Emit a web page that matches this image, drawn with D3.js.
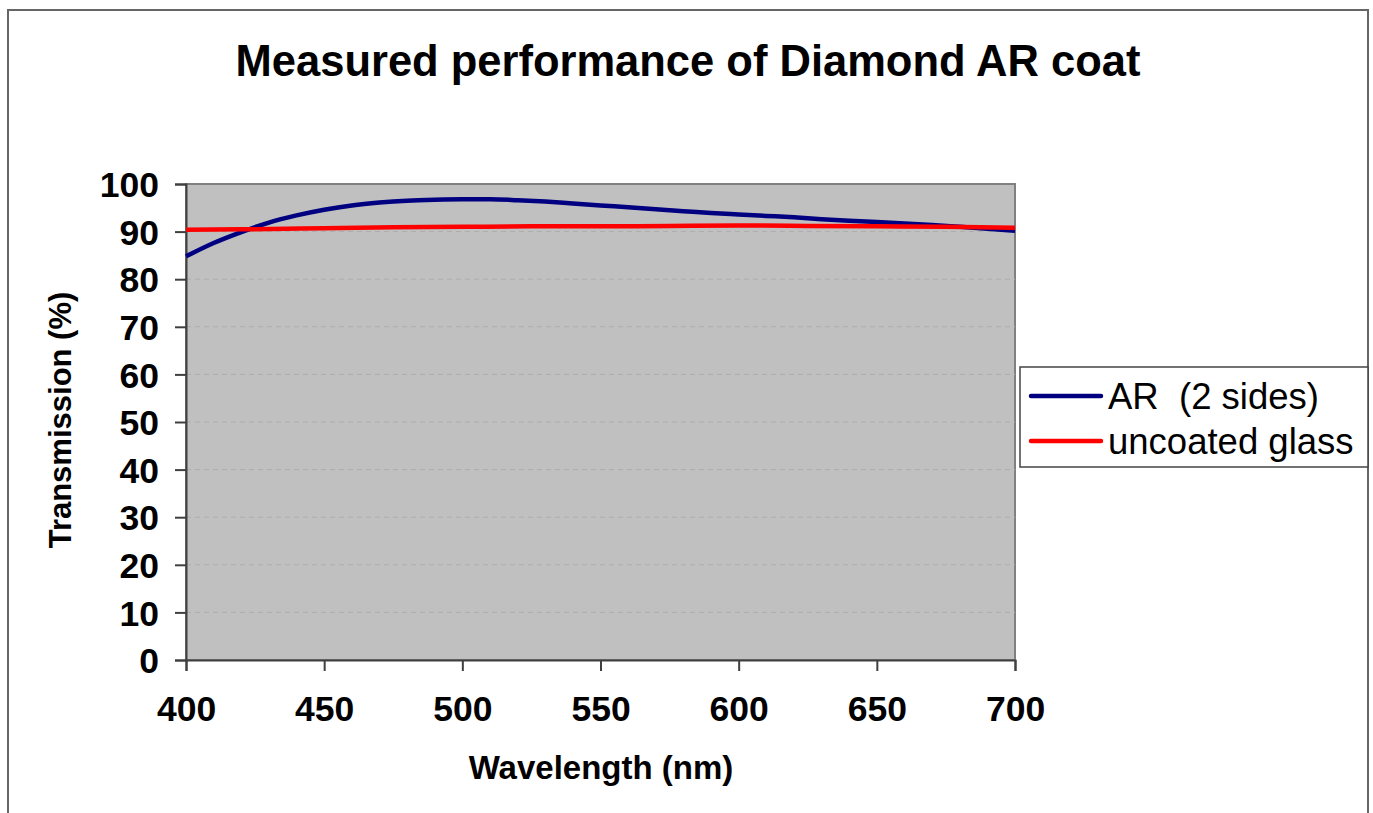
<!DOCTYPE html>
<html>
<head>
<meta charset="utf-8">
<script src="https://cdn.jsdelivr.net/npm/d3@7"></script>
<style>
  html, body { margin: 0; padding: 0; background: #fff; }
  svg { display: block; font-family: "Liberation Sans", Arial, sans-serif; }
</style>
</head>
<body>
<svg id="chart" width="1373" height="813"></svg>
<script>
// ---- Data ----
const titleText = "Measured performance of Diamond AR coat";
const xLabel = "Wavelength (nm)";
const yLabel = "Transmission (%)";
const seriesNames = ["AR  (2 sides)", "uncoated glass"];
const seriesColors = ["#000080", "#FF0000"];

const arWavelength = [400, 410, 420, 430, 440, 450, 460, 470, 480, 490, 500, 510, 520, 530, 540, 550, 560, 570, 580, 590, 600, 610, 620, 630, 640, 650, 660, 670, 680, 690, 700];
const arTransmission = [84.8, 87.6, 89.9, 91.9, 93.4, 94.6, 95.5, 96.1, 96.5, 96.7, 96.8, 96.8, 96.6, 96.3, 95.9, 95.5, 95.1, 94.7, 94.3, 93.9, 93.6, 93.3, 93.0, 92.6, 92.3, 92.0, 91.7, 91.4, 91.0, 90.6, 90.2];

const glassWavelength = [400, 425, 450, 475, 500, 525, 550, 575, 600, 625, 650, 675, 700];
const glassTransmission = [90.4, 90.5, 90.7, 90.9, 91.0, 91.1, 91.1, 91.2, 91.3, 91.2, 91.1, 91.0, 90.8];

const xTicks = [400, 450, 500, 550, 600, 650, 700];
const yTicks = [0, 10, 20, 30, 40, 50, 60, 70, 80, 90, 100];

// ---- Layout ----
const svg = d3.select("#chart");
const plot = { left: 186, right: 1015, top: 184, bottom: 660 };

// outer frame
svg.append("rect")
  .attr("x", 8).attr("y", 10).attr("width", 1360).attr("height", 812)
  .attr("fill", "#fff").attr("stroke", "#666").attr("stroke-width", 2);

const x = d3.scaleLinear().domain([400, 700]).range([plot.left, plot.right]);
const y = d3.scaleLinear().domain([0, 100]).range([plot.bottom, plot.top]);

// plot background
svg.append("rect")
  .attr("x", plot.left).attr("y", plot.top)
  .attr("width", plot.right - plot.left).attr("height", plot.bottom - plot.top)
  .attr("fill", "#C0C0C0").attr("stroke", "#808080").attr("stroke-width", 2);

// gridlines
svg.append("g").selectAll("line")
  .data(yTicks.filter(d => d > 0 && d < 100))
  .join("line")
  .attr("x1", plot.left).attr("x2", plot.right)
  .attr("y1", d => y(d)).attr("y2", d => y(d))
  .attr("stroke", "#adadad").attr("stroke-width", 1)
  .attr("stroke-dasharray", "5,4");

// axes
const xAxis = d3.axisBottom(x).tickValues(xTicks).tickSize(11).tickPadding(25).tickFormat(d3.format("d"));
const yAxis = d3.axisLeft(y).tickValues(yTicks).tickSize(11).tickPadding(16).tickFormat(d3.format("d"));

const gx = svg.append("g").attr("transform", `translate(0,${plot.bottom})`).call(xAxis);
const gy = svg.append("g").attr("transform", `translate(${plot.left},0)`).call(yAxis);

[gx, gy].forEach(g => {
  g.select(".domain").attr("stroke", "#404040").attr("stroke-width", 2);
  g.selectAll(".tick line").attr("stroke", "#404040").attr("stroke-width", 2);
  g.selectAll(".tick text")
    .attr("fill", "#000")
    .style("font-family", "'Liberation Sans', Arial, sans-serif")
    .style("font-size", "35.5px")
    .style("font-weight", "bold");
});
gy.selectAll(".tick text").attr("dy", "0.36em");

// series lines
const line = d3.line().x(d => x(d[0])).y(d => y(d[1])).curve(d3.curveMonotoneX);
const glassData = glassWavelength.map((w, i) => [w, glassTransmission[i]]);
const arData = arWavelength.map((w, i) => [w, arTransmission[i]]);

svg.append("path").datum(arData).attr("d", line)
  .attr("fill", "none").attr("stroke", seriesColors[0]).attr("stroke-width", 4.5)
  .attr("stroke-linejoin", "round");
svg.append("path").datum(glassData).attr("d", line)
  .attr("fill", "none").attr("stroke", seriesColors[1]).attr("stroke-width", 4.5)
  .attr("stroke-linejoin", "round");

// title
svg.append("text")
  .attr("x", 688).attr("y", 76)
  .attr("text-anchor", "middle")
  .style("font-size", "43.5px").style("font-weight", "bold")
  .text(titleText);

// axis titles
svg.append("text")
  .attr("x", 601).attr("y", 779)
  .attr("text-anchor", "middle")
  .style("font-size", "33px").style("font-weight", "bold")
  .text(xLabel);

svg.append("text")
  .attr("transform", `translate(71,420) rotate(-90)`)
  .attr("text-anchor", "middle")
  .style("font-size", "31px").style("font-weight", "bold")
  .text(yLabel);

// legend
const leg = svg.append("g");
leg.append("rect")
  .attr("x", 1020).attr("y", 367).attr("width", 348).attr("height", 100)
  .attr("fill", "#fff").attr("stroke", "#444").attr("stroke-width", 1.5);
seriesNames.forEach((name, i) => {
  const cy = 396 + i * 45;
  leg.append("line")
    .attr("x1", 1031).attr("x2", 1101).attr("y1", cy).attr("y2", cy)
    .attr("stroke", seriesColors[i]).attr("stroke-width", 4.5).attr("stroke-linecap", "round");
  leg.append("text")
    .attr("x", 1108).attr("y", cy + 13)
    .style("font-size", "36.5px")
    .style("white-space", "pre")
    .attr("xml:space", "preserve")
    .text(name);
});
</script>
</body>
</html>
